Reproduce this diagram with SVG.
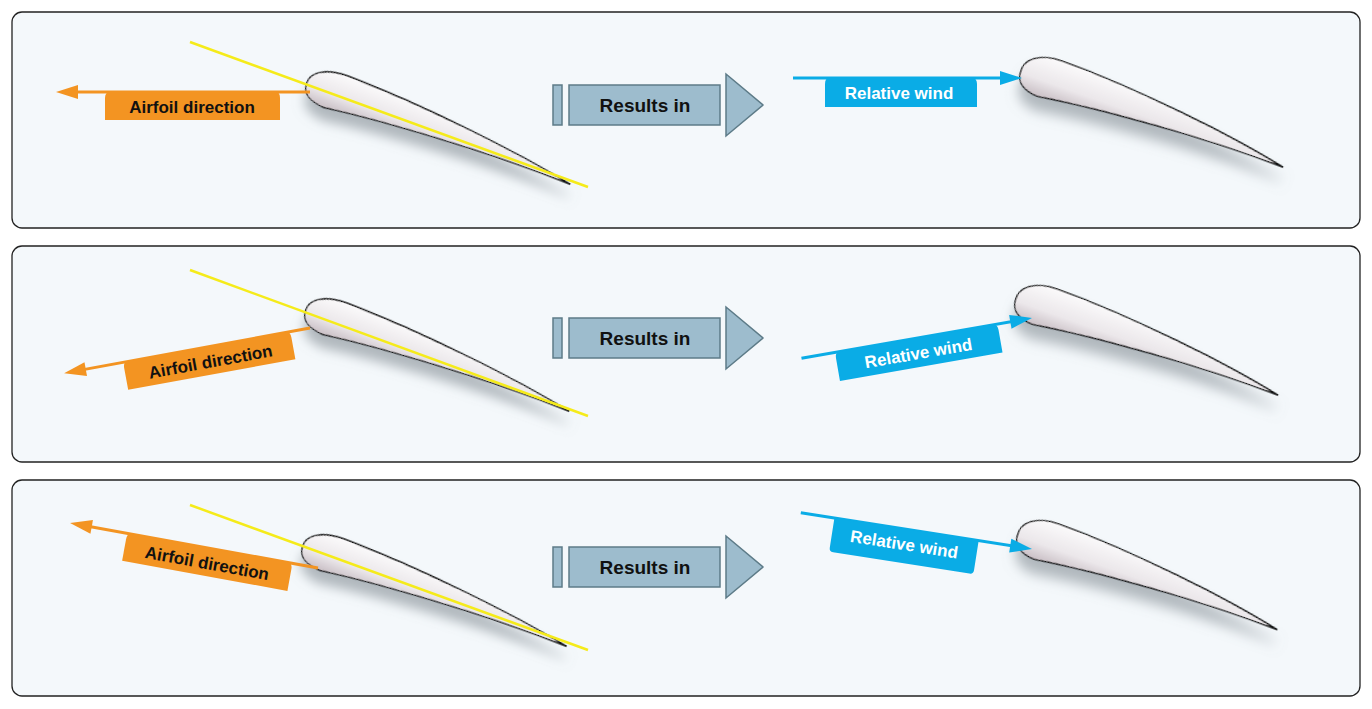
<svg xmlns="http://www.w3.org/2000/svg" xmlns:xlink="http://www.w3.org/1999/xlink" width="1372" height="709" viewBox="0 0 1372 709">
<style>
.panel{fill:#f4f8fb;stroke:#222;stroke-width:1.3}
.foil{fill:url(#fg);stroke:#111;stroke-width:1.3;filter:url(#sh)}
.yl{stroke:#f5eb1a;stroke-width:2.5}
.ri{fill:#9dbccd;stroke:#5d7b88;stroke-width:1.5}
.or{fill:#f39422}.ors{stroke:#f39422;stroke-width:3}
.bl{fill:#0aace6}.bls{stroke:#0aace6;stroke-width:3}
.t{font-family:"Liberation Sans",Arial,sans-serif;font-weight:bold}
</style>
<defs>
<linearGradient id="fg" x1="0" y1="0" x2="0" y2="1"><stop offset="0" stop-color="#fbfafb"/><stop offset="0.6" stop-color="#ebe7ea"/><stop offset="1" stop-color="#c9bfc5"/></linearGradient>
<filter id="sh" x="-20%" y="-50%" width="140%" height="250%"><feDropShadow dx="4" dy="12" stdDeviation="6" flood-color="#7a848a" flood-opacity="0.55"/></filter>
<path id="af" d="M0,0 C-3,-14 12,-24 36,-24 C120,-23 220,-12 282,0 C200,-2 90,5 24,14 C8,13 1,7 0,0 Z"/>
<g id="res"><rect class="ri" x="553" y="-20" width="9" height="40"/><rect class="ri" x="569" y="-20" width="151" height="40"/><path class="ri" d="M726,-31 L763,0 L726,31 Z"/><text class="t" x="645" y="7" font-size="19" text-anchor="middle" fill="#111">Results in</text></g>
</defs>
<rect class="panel" x="12" y="12" width="1348" height="216" rx="10"/>
<rect class="panel" x="12" y="246" width="1348" height="216" rx="10"/>
<rect class="panel" x="12" y="480" width="1348" height="216" rx="10"/>
<g id="foils">
<use href="#af" class="foil" transform="translate(306,86) rotate(20.4)"/>
<use href="#af" class="foil" transform="translate(1020,74) rotate(19.5) scale(0.99,1.1)"/>
<use href="#af" class="foil" transform="translate(305,313) rotate(20.4)"/>
<use href="#af" class="foil" transform="translate(1015,302) rotate(19.5) scale(0.99,1.1)"/>
<use href="#af" class="foil" transform="translate(302,549) rotate(20.2)"/>
<use href="#af" class="foil" transform="translate(1017,537) rotate(19.6) scale(0.98,1.1)"/>
</g>
<g id="connectors">
<line class="yl" x1="190" y1="42" x2="588" y2="187"/>
<line class="yl" x1="190" y1="270" x2="588" y2="416"/>
<line class="yl" x1="190" y1="505" x2="588" y2="650"/>
</g>
<g id="results">
<use href="#res" transform="translate(0,105)"/>
<use href="#res" transform="translate(0,338)"/>
<use href="#res" transform="translate(0,567)"/>
</g>
<g id="airfoil-dir">
<g transform="translate(310,92)"><line class="ors" x1="0" y1="0" x2="-240" y2="0"/><path class="or" d="M-254,0 L-232,-7 L-232,7 Z"/><path class="or" d="M-200,0 H-34 Q-30,0 -30,6 V28 H-205 V6 Q-205,0 -200,0 Z"/><text class="t" x="-118" y="21" font-size="17" text-anchor="middle" fill="#111">Airfoil direction</text></g>
<g transform="translate(310,328) rotate(-10.4)"><line class="ors" x1="0" y1="0" x2="-236" y2="0"/><path class="or" d="M-250,0 L-228,-7 L-228,7 Z"/><path class="or" d="M-186,0 H-24 Q-20,0 -20,6 V28 H-190 V6 Q-190,0 -186,0 Z"/><text class="t" x="-104" y="21" font-size="17" text-anchor="middle" fill="#111">Airfoil direction</text></g>
<g transform="translate(318,568) rotate(10.3)"><line class="ors" x1="0" y1="0" x2="-238" y2="0"/><path class="or" d="M-252,0 L-230,-7 L-230,7 Z"/><path class="or" d="M-190,0 H-30 Q-26,0 -26,6 V28 H-194 V6 Q-194,0 -190,0 Z"/><text class="t" x="-110" y="21" font-size="17" text-anchor="middle" fill="#111">Airfoil direction</text></g>
</g>
<g id="relative-wind">
<g transform="translate(1022,78)"><line class="bls" x1="-229" y1="0" x2="-14" y2="0"/><path class="bl" d="M0,0 L-22,-7 L-22,7 Z"/><path class="bl" d="M-193,0 H-50 Q-45,0 -45,6 V29 H-197 V6 Q-197,0 -193,0 Z"/><text class="t" x="-123" y="21" font-size="17" text-anchor="middle" fill="#fff">Relative wind</text></g>
<g transform="translate(1032,318) rotate(-9.9)"><line class="bls" x1="-234" y1="0" x2="-14" y2="0"/><path class="bl" d="M0,0 L-22,-7 L-22,7 Z"/><path class="bl" d="M-196,0 H-40 Q-35,0 -35,6 V29 H-200 V6 Q-200,0 -196,0 Z"/><text class="t" x="-118" y="21" font-size="17" text-anchor="middle" fill="#fff">Relative wind</text></g>
<g transform="translate(1032,549) rotate(8.9)"><line class="bls" x1="-234" y1="0" x2="-14" y2="0"/><path class="bl" d="M0,0 L-22,-7 L-22,7 Z"/><path class="bl" d="M-200,-34 H-54 V-4 Q-54,0 -58,0 H-196 V0 Q-200,0 -200,-4 Z" transform="translate(0,34)"/><text class="t" x="-127" y="21" font-size="17" text-anchor="middle" fill="#fff">Relative wind</text></g>
</g>
</svg>
